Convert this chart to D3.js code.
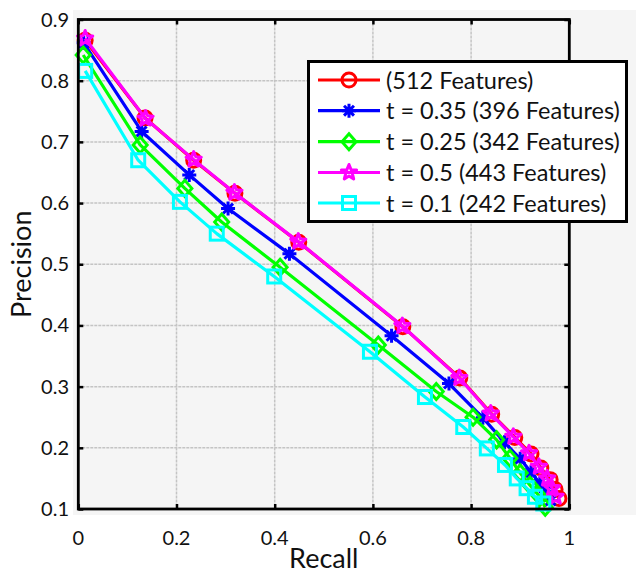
<!DOCTYPE html>
<html>
<head>
<meta charset="utf-8">
<script src="https://cdn.jsdelivr.net/npm/d3@7"></script>
<style>
  html, body { margin: 0; padding: 0; background: #ffffff; }
  svg { display: block; }
</style>
</head>
<body>
<svg id="chart" width="636" height="575"></svg>
<script>
// Precision–recall curves for different feature-selection thresholds
const seriesNames = [
  "(512 Features)",
  "t = 0.35 (396 Features)",
  "t = 0.25 (342 Features)",
  "t = 0.5 (443 Features)",
  "t = 0.1 (242 Features)"
];
const seriesColors = ["#ff0000", "#0000ff", "#00ff00", "#ff00ff", "#00ffff"];
const seriesMarkers = ["circle", "asterisk", "diamond", "star", "square"];

const recall512 = [0.014, 0.136, 0.235, 0.319, 0.449, 0.661, 0.777, 0.842, 0.889, 0.922, 0.942, 0.961, 0.971, 0.979];
const precision512 = [0.866, 0.739, 0.670, 0.616, 0.536, 0.398, 0.314, 0.255, 0.217, 0.190, 0.167, 0.148, 0.132, 0.117];

const recall035 = [0.011, 0.129, 0.226, 0.305, 0.430, 0.638, 0.755, 0.824, 0.868, 0.900, 0.922, 0.940, 0.952, 0.962];
const precision035 = [0.862, 0.717, 0.646, 0.591, 0.517, 0.383, 0.305, 0.249, 0.209, 0.182, 0.160, 0.142, 0.128, 0.114];

const recall025 = [0.010, 0.126, 0.217, 0.292, 0.411, 0.611, 0.729, 0.804, 0.852, 0.879, 0.900, 0.920, 0.937, 0.951];
const precision025 = [0.842, 0.695, 0.624, 0.569, 0.495, 0.368, 0.292, 0.250, 0.213, 0.183, 0.159, 0.139, 0.123, 0.103];

const recall05 = [0.014, 0.137, 0.235, 0.318, 0.448, 0.660, 0.776, 0.840, 0.886, 0.918, 0.938, 0.955, 0.965, 0.972];
const precision05 = [0.869, 0.738, 0.671, 0.617, 0.537, 0.399, 0.314, 0.256, 0.218, 0.191, 0.169, 0.150, 0.134, 0.120];

const recall01 = [0.014, 0.122, 0.207, 0.282, 0.399, 0.594, 0.706, 0.784, 0.832, 0.869, 0.893, 0.913, 0.930, 0.947];
const precision01 = [0.816, 0.670, 0.602, 0.550, 0.480, 0.357, 0.283, 0.234, 0.199, 0.172, 0.150, 0.134, 0.120, 0.109];

const recallSets = [recall512, recall035, recall025, recall05, recall01];
const precisionSets = [precision512, precision035, precision025, precision05, precision01];

const xTicks = [0, 0.2, 0.4, 0.6, 0.8, 1];
const yTicks = [0.1, 0.2, 0.3, 0.4, 0.5, 0.6, 0.7, 0.8, 0.9];

const svg = d3.select("#chart");
const font = "Lato, 'Open Sans', sans-serif";

const plot = { left: 78.3, right: 569.3, top: 19.5, bottom: 509 };
const x = d3.scaleLinear().domain([0, 1]).range([plot.left, plot.right]);
const y = d3.scaleLinear().domain([0.1, 0.9]).range([plot.bottom, plot.top]);

// figure panel background
svg.append("rect")
  .attr("x", 73).attr("y", 10).attr("width", 563).attr("height", 505)
  .attr("fill", "#f5f5f5");

// grid lines
const grid = svg.append("g");
grid.selectAll("line.gx").data(xTicks.slice(1, -1)).enter().append("line")
  .attr("x1", d => x(d)).attr("x2", d => x(d))
  .attr("y1", plot.top).attr("y2", plot.bottom)
  .attr("stroke", "#c4c4c4").attr("stroke-width", 1.5).attr("stroke-dasharray", "3,1");
grid.selectAll("line.gy").data(yTicks.slice(1, -1)).enter().append("line")
  .attr("y1", d => y(d)).attr("y2", d => y(d))
  .attr("x1", plot.left).attr("x2", plot.right)
  .attr("stroke", "#c4c4c4").attr("stroke-width", 1.5).attr("stroke-dasharray", "3,1");

// inward ticks on all four sides
const tickLen = 5;
const axisG = svg.append("g");
const bottomAxis = d3.axisBottom(x).tickValues(xTicks).tickSize(-tickLen).tickFormat("");
const topAxis = d3.axisTop(x).tickValues(xTicks).tickSize(-tickLen).tickFormat("");
const leftAxis = d3.axisLeft(y).tickValues(yTicks).tickSize(-tickLen).tickFormat("");
const rightAxis = d3.axisRight(y).tickValues(yTicks).tickSize(-tickLen).tickFormat("");
[[bottomAxis, `translate(0,${plot.bottom})`], [topAxis, `translate(0,${plot.top})`],
 [leftAxis, `translate(${plot.left},0)`], [rightAxis, `translate(${plot.right},0)`]].forEach(([ax, tr]) => {
  const g = axisG.append("g").attr("transform", tr).call(ax);
  g.select(".domain").remove();
  g.selectAll(".tick line").attr("stroke", "#000").attr("stroke-width", 2.5);
});

// tick labels
svg.append("g").selectAll("text").data(xTicks).enter().append("text")
  .attr("x", d => x(d)).attr("y", 545)
  .attr("text-anchor", "middle")
  .attr("font-family", font).attr("font-size", 20).attr("fill", "#111")
  .text(d => d3.format("")(d));
svg.append("g").selectAll("text").data(yTicks).enter().append("text")
  .attr("x", 69).attr("y", d => y(d) + 7)
  .attr("text-anchor", "end")
  .attr("font-family", font).attr("font-size", 20).attr("fill", "#111")
  .text(d => d3.format(".1f")(d));

// axis titles
svg.append("text")
  .attr("x", x(0.5)).attr("y", 568)
  .attr("text-anchor", "middle")
  .attr("font-family", font).attr("font-size", 27).attr("fill", "#111")
  .text("Recall");
svg.append("text")
  .attr("transform", `translate(31,${(plot.top + plot.bottom) / 2}) rotate(-90)`)
  .attr("text-anchor", "middle")
  .attr("font-family", font).attr("font-size", 27).attr("fill", "#111")
  .text("Precision");

// marker shapes
function drawMarker(g, kind, color) {
  const s = 7;
  const sw = 3;
  if (kind === "circle") {
    g.append("circle").attr("r", s).attr("fill", "none").attr("stroke", color).attr("stroke-width", sw);
  } else if (kind === "square") {
    g.append("rect").attr("x", -s + 0.5).attr("y", -s + 0.5).attr("width", 2 * s - 1).attr("height", 2 * s - 1)
      .attr("fill", "none").attr("stroke", color).attr("stroke-width", sw);
  } else if (kind === "diamond") {
    g.append("path").attr("d", `M0,${-s - 1}L${s},0L0,${s + 1}L${-s},0Z`)
      .attr("fill", "none").attr("stroke", color).attr("stroke-width", sw);
  } else if (kind === "asterisk") {
    const p = [];
    for (let i = 0; i < 4; i++) {
      const a = i * Math.PI / 4;
      p.push(`M${-s * Math.cos(a)},${-s * Math.sin(a)}L${s * Math.cos(a)},${s * Math.sin(a)}`);
    }
    g.append("path").attr("d", p.join("")).attr("stroke", color).attr("stroke-width", sw);
  } else if (kind === "star") {
    const pts = [];
    for (let i = 0; i < 10; i++) {
      const r = i % 2 === 0 ? s + 1 : s * 0.5;
      const a = -Math.PI / 2 + i * Math.PI / 5;
      pts.push([r * Math.cos(a), r * Math.sin(a)]);
    }
    g.append("path").attr("d", "M" + pts.join("L") + "Z")
      .attr("fill", "none").attr("stroke", color).attr("stroke-width", sw).attr("stroke-linejoin", "round");
  }
}

// curves
const line = d3.line().x(d => x(d[0])).y(d => y(d[1]));
seriesNames.forEach((name, i) => {
  const pts = recallSets[i].map((r, j) => [r, precisionSets[i][j]]);
  const g = svg.append("g");
  g.append("path").datum(pts).attr("d", line)
    .attr("fill", "none").attr("stroke", seriesColors[i]).attr("stroke-width", 3.2)
    .attr("stroke-linejoin", "round");
  pts.forEach(p => {
    const m = g.append("g").attr("transform", `translate(${x(p[0])},${y(p[1])})`);
    drawMarker(m, seriesMarkers[i], seriesColors[i]);
  });
});

// axes box
svg.append("rect")
  .attr("x", plot.left).attr("y", plot.top)
  .attr("width", plot.right - plot.left).attr("height", plot.bottom - plot.top)
  .attr("fill", "none").attr("stroke", "#000").attr("stroke-width", 2.8);

// legend
const lg = svg.append("g");
lg.append("rect").attr("x", 308.5).attr("y", 61.5).attr("width", 318).attr("height", 160)
  .attr("fill", "#ffffff").attr("stroke", "#000").attr("stroke-width", 3);
const rowY = [80, 110.7, 141.7, 172.5, 203];
seriesNames.forEach((name, i) => {
  const ry = rowY[i];
  lg.append("line").attr("x1", 318).attr("x2", 380).attr("y1", ry).attr("y2", ry)
    .attr("stroke", seriesColors[i]).attr("stroke-width", 3.2);
  const m = lg.append("g").attr("transform", `translate(349,${ry})`);
  drawMarker(m, seriesMarkers[i], seriesColors[i]);
  lg.append("text").attr("x", 386).attr("y", ry + 8.5)
    .attr("font-family", font).attr("font-size", 23.5).attr("fill", "#111")
    .text(name);
});
</script>
</body>
</html>
